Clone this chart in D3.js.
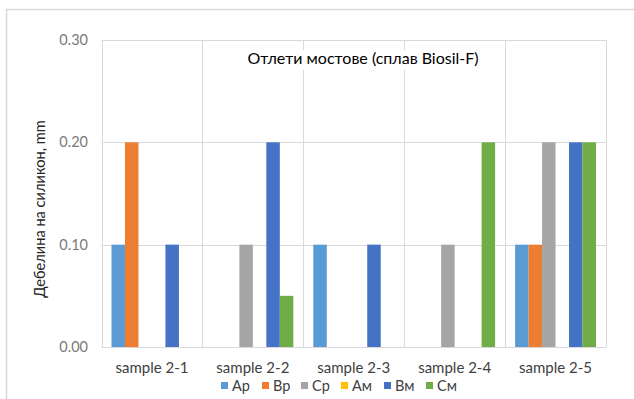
<!DOCTYPE html>
<html>
<head>
<meta charset="utf-8">
<script src="https://cdn.jsdelivr.net/npm/d3@7"></script>
<style>
  html, body { margin: 0; padding: 0; background: #fff; }
  svg { display: block; font-family: Lato, "Open Sans", sans-serif; }
</style>
</head>
<body>
<svg id="chart" width="634" height="399"></svg>
<script>
// Samples along the x axis
const categories = ["sample 2-1", "sample 2-2", "sample 2-3", "sample 2-4", "sample 2-5"];
// Series names (legend order)
const seriesNames = ["Ар", "Вр", "Ср", "Ам", "Вм", "См"];
const seriesColors = ["#5b9bd5", "#ed7d31", "#a5a5a5", "#ffc000", "#4472c4", "#70ad47"];
// Silicone thickness per series, one value per sample (mm)
const Ap = [0.10, 0.00, 0.10, 0.00, 0.10];
const Bp = [0.20, 0.00, 0.00, 0.00, 0.10];
const Cp = [0.00, 0.10, 0.00, 0.10, 0.20];
const Am = [0.00, 0.00, 0.00, 0.00, 0.00];
const Bm = [0.10, 0.20, 0.10, 0.00, 0.20];
const Cm = [0.00, 0.05, 0.00, 0.20, 0.20];
const yTicks = [0, 0.1, 0.2, 0.3];
const titleText = "Отлети мостове (сплав Biosil-F)";
const yTitle = "Дебелина на силикон, mm";

const seriesValues = [Ap, Bp, Cp, Am, Bm, Cm];
const rows = categories.map((c, i) => ({
  category: c,
  values: seriesNames.map((s, k) => ({ key: s, value: seriesValues[k][i], color: seriesColors[k] }))
}));

const svg = d3.select("#chart");
const plot = { left: 101.5, right: 606, top: 40, bottom: 347 };
const grid = "#d9d9d9";

// Chart frame
svg.append("path")
  .attr("d", "M6.5,399 V9.5 H634")
  .attr("fill", "none").attr("stroke", "#d9d9d9").attr("stroke-width", 1.6);

const x0 = d3.scaleBand().domain(categories).range([plot.left, plot.right]).padding(0);
const bw = x0.bandwidth();
const x1 = d3.scaleBand().domain(seriesNames).range([bw * 0.099, bw * 0.901]).padding(0);
const y = d3.scaleLinear().domain([0, 0.3]).range([plot.bottom, plot.top]);

// Horizontal gridlines
svg.append("g").selectAll("line").data(yTicks).join("line")
  .attr("x1", plot.left).attr("x2", plot.right)
  .attr("y1", d => Math.round(y(d)) + 0.5).attr("y2", d => Math.round(y(d)) + 0.5)
  .attr("stroke", grid).attr("stroke-width", 1);

// Vertical category dividers
const dividers = categories.map(c => x0(c)).concat([x0(categories[categories.length - 1]) + bw]);
svg.append("g").selectAll("line").data(dividers).join("line")
  .attr("x1", d => Math.round(d) + 0.5).attr("x2", d => Math.round(d) + 0.5)
  .attr("y1", plot.top).attr("y2", plot.bottom)
  .attr("stroke", grid).attr("stroke-width", 1);

// Bars
svg.append("g").selectAll("g").data(rows).join("g")
  .attr("transform", d => `translate(${x0(d.category)},0)`)
  .selectAll("rect").data(d => d.values.filter(v => v.value > 0)).join("rect")
  .attr("x", d => x1(d.key))
  .attr("width", x1.bandwidth())
  .attr("y", d => y(d.value))
  .attr("height", d => y(0) - y(d.value))
  .attr("fill", d => d.color);

// Y axis tick labels
const yAxis = d3.axisLeft(y).tickValues(yTicks).tickFormat(d3.format(".2f")).tickSize(0).tickPadding(0);
const ya = svg.append("g").attr("transform", `translate(88,0)`).call(yAxis);
ya.select(".domain").remove();
ya.selectAll("text").attr("font-size", 14.5).attr("fill", "#7a7a7a").attr("font-family", "Lato, sans-serif");

// X axis category labels
const xAxis = d3.axisBottom(x0).tickSize(0).tickPadding(0);
const xa = svg.append("g").attr("transform", `translate(0,362)`).call(xAxis);
xa.select(".domain").remove();
xa.selectAll("text").attr("font-size", 15).attr("fill", "#404040").attr("font-family", "Lato, sans-serif");

// Y axis title
svg.append("text")
  .attr("transform", "translate(45,209) rotate(-90)")
  .attr("text-anchor", "middle")
  .attr("font-size", 14.6).attr("fill", "#262626")
  .text(yTitle);

// Chart title on a white box over the grid
const tg = svg.append("g");
const tbox = tg.append("rect").attr("fill", "#fff");
const tt = tg.append("text")
  .attr("x", 363).attr("y", 64)
  .attr("text-anchor", "middle")
  .attr("font-size", 16).attr("fill", "#000")
  .text(titleText);
const bb = tt.node().getBBox();
tbox.attr("x", bb.x - 4).attr("y", 50).attr("width", bb.width + 8).attr("height", 20);

// Legend
const legendX = [221, 262, 301, 341, 384, 426];
const lg = svg.append("g").selectAll("g").data(seriesNames).join("g")
  .attr("transform", (d, i) => `translate(${legendX[i]},382)`);
lg.append("rect").attr("width", 7).attr("height", 7).attr("fill", (d, i) => seriesColors[i]);
lg.append("text").attr("x", 11).attr("y", 8.5).attr("font-size", 14.5).attr("fill", "#404040").text(d => d);
</script>
</body>
</html>
